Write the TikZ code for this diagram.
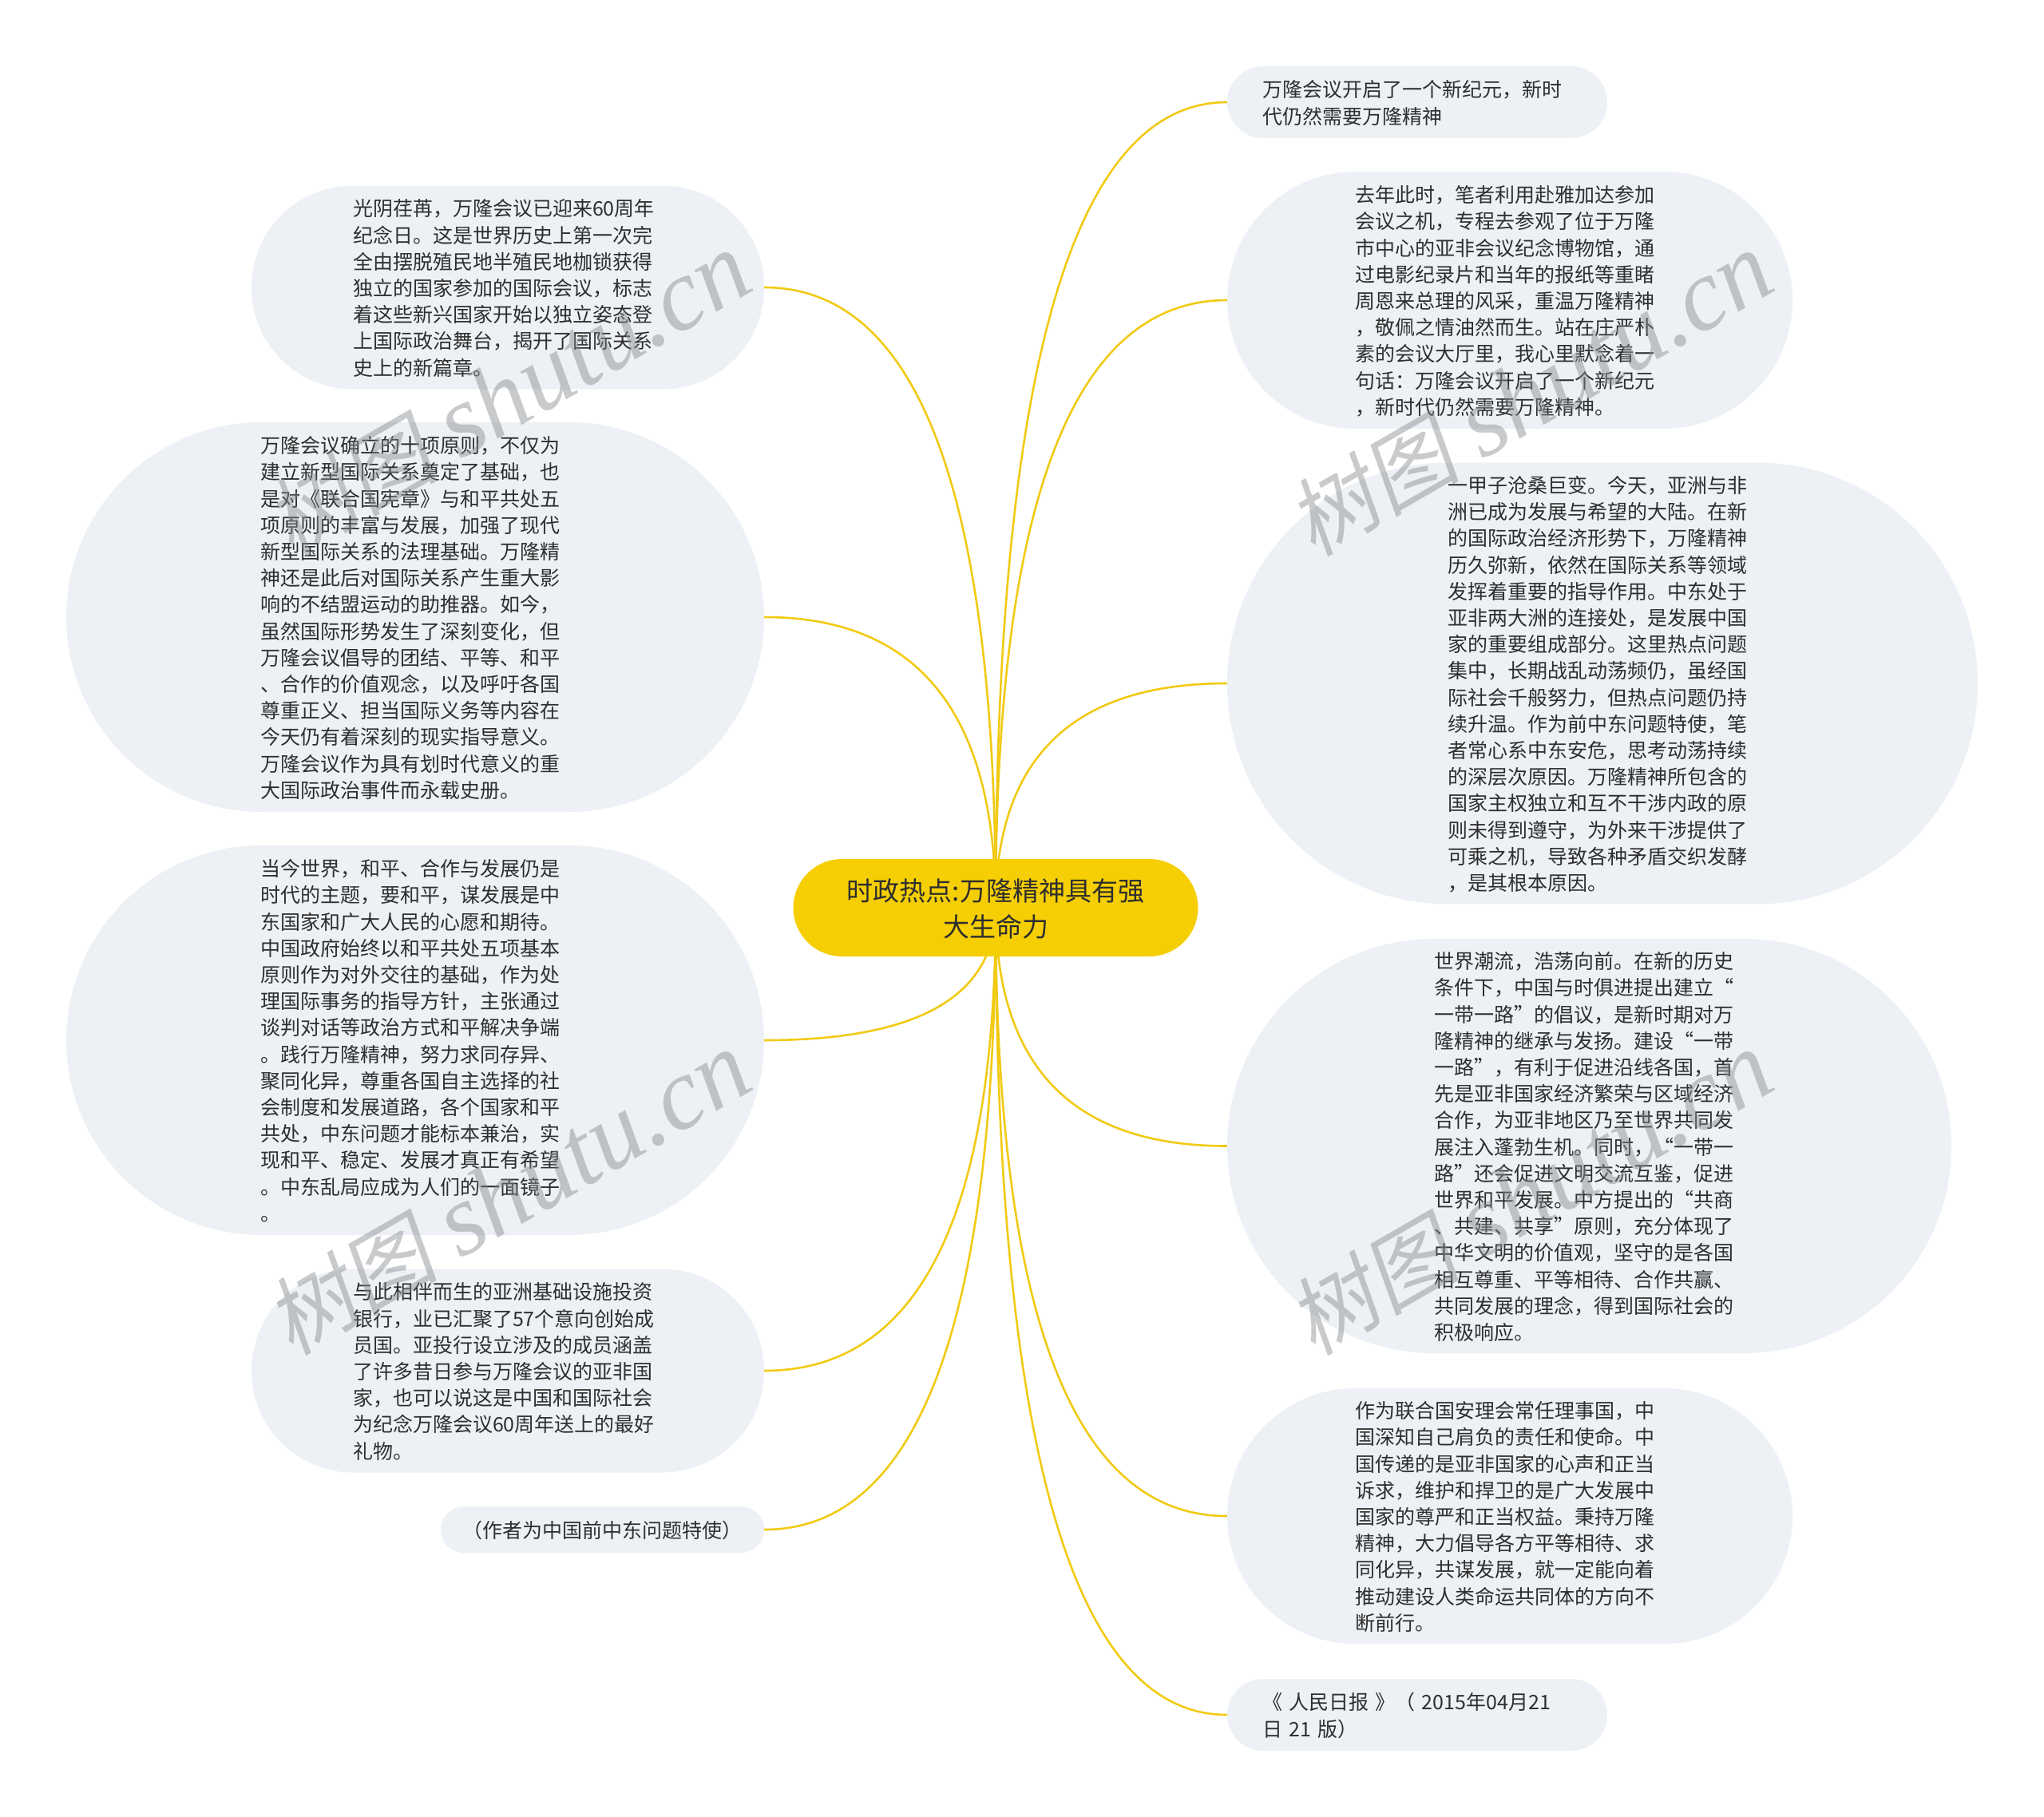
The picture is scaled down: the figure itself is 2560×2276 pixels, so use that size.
\documentclass[tikz,border=0pt]{standalone}
\usepackage{fontspec}
\setmainfont{Noto Sans CJK SC}
\newfontfamily\markfont{Liberation Serif}
\newfontfamily\markcjk[FakeSlant=0.18]{Noto Sans CJK SC}
\usetikzlibrary{backgrounds, calc}
\definecolor{rootyellow}{HTML}{F5CE03}
\definecolor{edgeyellow}{HTML}{F1CA14}
\definecolor{leafgray}{HTML}{EDF1F5}
\definecolor{inkdark}{HTML}{2E2E2E}
\definecolor{markgray}{HTML}{858A8E}
\setlength{\lineskiplimit}{-100pt}
\setlength{\normallineskiplimit}{-100pt}

\begin{document}
\begin{tikzpicture}[x=1pt,y=-1pt]
	\tikzstyle{root} = [rectangle,fill=rootyellow,text=inkdark,align=center,text width=420pt,inner sep=0pt,execute at begin node={\rule{0pt}{31pt}},execute at end node={\rule[-3pt]{0pt}{3pt}},font=\fontsize{33pt}{45pt}\selectfont]
	\tikzstyle{leaf} = [rectangle,fill=leafgray,text=inkdark,align=left,text width=388pt,inner sep=0pt,execute at begin node={\rule{0pt}{25pt}},execute at end node={\rule[-4pt]{0pt}{4pt}},font=\fontsize{25pt}{33.2pt}\selectfont]
	\tikzstyle{edge} = [draw=edgeyellow,line width=2.6pt,to path={.. controls ($(\tikztostart)!0.667!(\tikztostart|-\tikztotarget)$) and ($(\tikztotarget)!0.667!(\tikztostart|-\tikztotarget)$) .. (\tikztotarget)}]
	\tikzstyle{watermark} = [rotate=30,anchor=base west,inner sep=0pt,text=markgray,opacity=0.45,font=\fontsize{128pt}{128pt}\markfont\itshape]
	\useasboundingbox (0,0) rectangle (2560,2276);
	\node[root,minimum width=507pt,minimum height=122pt,rounded corners=61pt] (n0) at (1247,1137) {时政热点:万隆精神具有强\\大生命力};
	\node[leaf,minimum width=642pt,minimum height=255pt,rounded corners=127pt] (n1) at (636,360) {光阴荏苒，万隆会议已迎来60周年\\
		纪念日。这是世界历史上第一次完\\
		全由摆脱殖民地半殖民地枷锁获得\\
		独立的国家参加的国际会议，标志\\
		着这些新兴国家开始以独立姿态登\\
		上国际政治舞台，揭开了国际关系\\
		史上的新篇章。};
	\node[leaf,minimum width=874pt,minimum height=488pt,rounded corners=244pt] (n2) at (520,773) {万隆会议确立的十项原则，不仅为\\
		建立新型国际关系奠定了基础，也\\
		是对《联合国宪章》与和平共处五\\
		项原则的丰富与发展，加强了现代\\
		新型国际关系的法理基础。万隆精\\
		神还是此后对国际关系产生重大影\\
		响的不结盟运动的助推器。如今，\\
		虽然国际形势发生了深刻变化，但\\
		万隆会议倡导的团结、平等、和平\\
		、合作的价值观念，以及呼吁各国\\
		尊重正义、担当国际义务等内容在\\
		今天仍有着深刻的现实指导意义。\\
		万隆会议作为具有划时代意义的重\\
		大国际政治事件而永载史册。};
	\node[leaf,minimum width=874pt,minimum height=488pt,rounded corners=244pt] (n3) at (520,1303) {当今世界，和平、合作与发展仍是\\
		时代的主题，要和平，谋发展是中\\
		东国家和广大人民的心愿和期待。\\
		中国政府始终以和平共处五项基本\\
		原则作为对外交往的基础，作为处\\
		理国际事务的指导方针，主张通过\\
		谈判对话等政治方式和平解决争端\\
		。践行万隆精神，努力求同存异、\\
		聚同化异，尊重各国自主选择的社\\
		会制度和发展道路，各个国家和平\\
		共处，中东问题才能标本兼治，实\\
		现和平、稳定、发展才真正有希望\\
		。中东乱局应成为人们的一面镜子\\
		。};
	\node[leaf,minimum width=642pt,minimum height=255pt,rounded corners=127pt] (n4) at (636,1717) {与此相伴而生的亚洲基础设施投资\\
		银行，业已汇聚了57个意向创始成\\
		员国。亚投行设立涉及的成员涵盖\\
		了许多昔日参与万隆会议的亚非国\\
		家，也可以说这是中国和国际社会\\
		为纪念万隆会议60周年送上的最好\\
		礼物。};
	\node[leaf,text width=350pt,minimum width=405pt,minimum height=58pt,rounded corners=29pt] (n5) at (754.5,1916) {（作者为中国前中东问题特使）};
	\node[leaf,minimum width=476pt,minimum height=90pt,rounded corners=45pt] (n6) at (1775,128) {万隆会议开启了一个新纪元，新时\\
		代仍然需要万隆精神};
	\node[leaf,minimum width=708pt,minimum height=322pt,rounded corners=161pt] (n7) at (1891,376) {去年此时，笔者利用赴雅加达参加\\
		会议之机，专程去参观了位于万隆\\
		市中心的亚非会议纪念博物馆，通\\
		过电影纪录片和当年的报纸等重睹\\
		周恩来总理的风采，重温万隆精神\\
		，敬佩之情油然而生。站在庄严朴\\
		素的会议大厅里，我心里默念着一\\
		句话：万隆会议开启了一个新纪元\\
		，新时代仍然需要万隆精神。};
	\node[leaf,minimum width=940pt,minimum height=553pt,rounded corners=276pt] (n8) at (2007,856) {一甲子沧桑巨变。今天，亚洲与非\\
		洲已成为发展与希望的大陆。在新\\
		的国际政治经济形势下，万隆精神\\
		历久弥新，依然在国际关系等领域\\
		发挥着重要的指导作用。中东处于\\
		亚非两大洲的连接处，是发展中国\\
		家的重要组成部分。这里热点问题\\
		集中，长期战乱动荡频仍，虽经国\\
		际社会千般努力，但热点问题仍持\\
		续升温。作为前中东问题特使，笔\\
		者常心系中东安危，思考动荡持续\\
		的深层次原因。万隆精神所包含的\\
		国家主权独立和互不干涉内政的原\\
		则未得到遵守，为外来干涉提供了\\
		可乘之机，导致各种矛盾交织发酵\\
		，是其根本原因。};
	\node[leaf,minimum width=907pt,minimum height=519pt,rounded corners=259pt] (n9) at (1990.5,1435.5) {世界潮流，浩荡向前。在新的历史\\
		条件下，中国与时俱进提出建立“\\
		一带一路”的倡议，是新时期对万\\
		隆精神的继承与发扬。建设“一带\\
		一路”，有利于促进沿线各国，首\\
		先是亚非国家经济繁荣与区域经济\\
		合作，为亚非地区乃至世界共同发\\
		展注入蓬勃生机。同时，“一带一\\
		路”还会促进文明交流互鉴，促进\\
		世界和平发展。中方提出的“共商\\
		、共建、共享”原则，充分体现了\\
		中华文明的价值观，坚守的是各国\\
		相互尊重、平等相待、合作共赢、\\
		共同发展的理念，得到国际社会的\\
		积极响应。};
	\node[leaf,minimum width=708pt,minimum height=320pt,rounded corners=160pt] (n10) at (1891,1899) {作为联合国安理会常任理事国，中\\
		国深知自己肩负的责任和使命。中\\
		国传递的是亚非国家的心声和正当\\
		诉求，维护和捍卫的是广大发展中\\
		国家的尊严和正当权益。秉持万隆\\
		精神，大力倡导各方平等相待、求\\
		同化异，共谋发展，就一定能向着\\
		推动建设人类命运共同体的方向不\\
		断前行。};
	\node[leaf,minimum width=476pt,minimum height=90pt,rounded corners=45pt] (n11) at (1775,2148) {《 人民日报 》（ 2015年04月21\\
		日 21 版）};
	\begin{scope}[on background layer]
		\draw[edge] (n0.center) to (n1.east);
		\draw[edge] (n0.center) to (n2.east);
		\draw[edge] (n0.center) to (n3.east);
		\draw[edge] (n0.center) to (n4.east);
		\draw[edge] (n0.center) to (n5.east);
		\draw[edge] (n0.center) to (n6.west);
		\draw[edge] (n0.center) to (n7.west);
		\draw[edge] (n0.center) to (n8.west);
		\draw[edge] (n0.center) to (n9.west);
		\draw[edge] (n0.center) to (n10.west);
		\draw[edge] (n0.center) to (n11.west);
	\end{scope}
	\node[watermark] (m1) at (365,699) {{\markcjk\fontsize{108pt}{108pt}\selectfont 树图}\hspace{28pt}shutu.cn};
	\node[watermark] (m2) at (365,1700) {{\markcjk\fontsize{108pt}{108pt}\selectfont 树图}\hspace{28pt}shutu.cn};
	\node[watermark] (m3) at (1645,699) {{\markcjk\fontsize{108pt}{108pt}\selectfont 树图}\hspace{28pt}shutu.cn};
	\node[watermark] (m4) at (1645,1700) {{\markcjk\fontsize{108pt}{108pt}\selectfont 树图}\hspace{28pt}shutu.cn};
\end{tikzpicture}
\end{document}
